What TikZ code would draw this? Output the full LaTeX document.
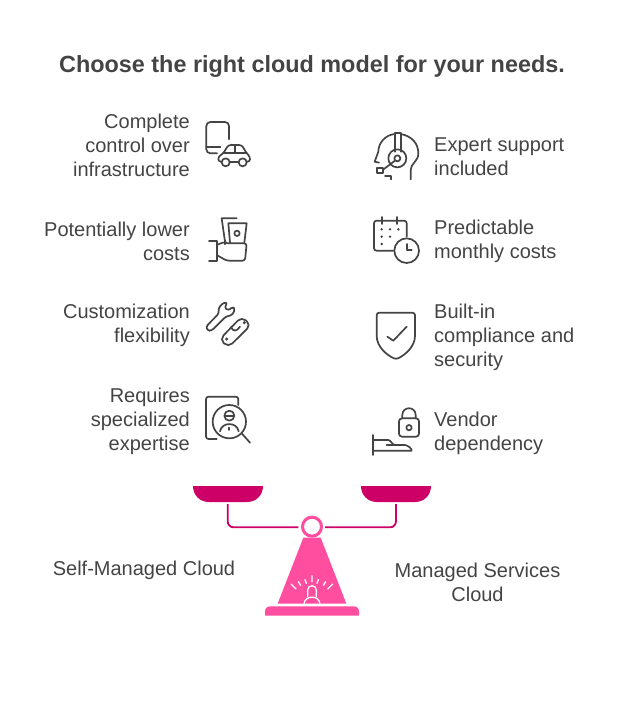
\documentclass[tikz,border=0pt]{standalone}
\usepackage{fontspec}
\setmainfont{Liberation Sans}
\definecolor{ink}{HTML}{444444}
\definecolor{pan}{HTML}{CC0066}
\definecolor{hot}{HTML}{FF4DA0}
\begin{document}
\begin{tikzpicture}[x=1pt,y=-1pt,
 lab/.style={inner sep=0pt,text=ink,font=\fontsize{20}{24}\selectfont},
 labl/.style={lab,anchor=east,align=right},
 labr/.style={lab,anchor=west,align=left},
 ic/.style={draw=ink,line width=1.7pt,line cap=round,line join=round,fill=none},
 icr/.style={ic,rounded corners=2.5pt},
 dotf/.style={fill=ink,draw=none},
 arm/.style={draw=pan,line width=1.8pt,rounded corners=6pt},
 wht/.style={draw=white,line width=1.3pt,line cap=round},
 zm/.style={shift={#1},scale=1/3}]
\useasboundingbox (0,0) rectangle (624,725);
\fill[white] (0,0) rectangle (624,725);
\node[inner sep=0pt,text=ink,font=\fontsize{23.4}{28}\selectfont\bfseries] (title) at (312,66.5) {Choose the right cloud model for your needs.};
% left labels
\node[labl] (l1) at (190,145) {Complete\\control over\\infrastructure};
\node[labl] (l2) at (190,241) {Potentially lower\\costs};
\node[labl] (l3) at (190,325) {Customization\\flexibility};
\node[labl] (l4) at (190,421) {Requires\\specialized\\expertise};
% right labels
\node[labr] (r1) at (434,157) {Expert support\\included};
\node[labr] (r2) at (434,241) {Predictable\\monthly costs};
\node[labr] (r3) at (434,337) {Built-in\\compliance and\\security};
\node[labr] (r4) at (434,433) {Vendor\\dependency};
\node[lab,anchor=center] (sm) at (144,570) {Self-Managed Cloud};
\node[lab,anchor=center,align=center] (ms) at (477.5,582) {Managed Services\\Cloud};
% phone + car
\begin{scope}[zm={(195,110)}]
 \draw[ic,rounded corners=4pt] (102,88) -- (102,36) -- (34,36) -- (34,130) -- (66,130);
 \draw[ic] (34,110) -- (76,110);
 \draw[icr] (80,155) -- (70,155) -- (70,140) -- (85,130) -- (100,105) -- (140,105) -- (155,130) -- (165,140) -- (165,155) -- (155,155);
 \draw[ic] (105,155) -- (130,155) (85,130) -- (155,130) (120,105) -- (120,130);
 \draw[ic] (92,157) circle (12) (143,157) circle (12);
\end{scope}
% cash in hand
\begin{scope}[zm={(195,110)}]
 \draw[ic] (125,325) -- (80,325) -- (90,395);
 \draw[ic] (105,398) -- (100,340) -- (155,340) -- (148,398);
 \draw[ic] (126,370) circle (8);
 \draw[ic] (42,392) -- (65,392) -- (65,452) -- (42,452);
 \draw[icr] (65,405) -- (90,395) -- (90,400) -- (155,400) -- (150,452) -- (95,452) -- (65,435);
\end{scope}
% wrench + tool
\begin{scope}[zm={(195,290)}]
 \draw[icr] (33,110) -- (72,70) -- (70,55) -- (85,38) -- (98,38) -- (88,52) -- (100,62) -- (113,50) -- (120,58) -- (112,75) -- (92,80) -- (50,122) -- (38,122) -- cycle;
 \draw[ic,rounded corners=5.5pt] (74,148) -- (140,80) -- (168,105) -- (100,172) -- cycle;
 \fill[dotf] (95,147) circle (5) (148,98) circle (5);
 \draw[ic] (108,112) .. controls (115,125) and (125,125) .. (135,110);
\end{scope}
% document + magnifier
\begin{scope}[zm={(195,290)}]
 \draw[icr] (65,447) -- (33,447) -- (33,320) -- (130,320) -- (130,345);
 \draw[ic] (103,395) circle (50);
 \draw[ic] (140,430) -- (165,458);
 \draw[ic] (103,377) circle (15);
 \draw[ic] (90,377) -- (116,377);
 \draw[ic] (75,424) .. controls (80,395) and (126,395) .. (131,424);
 \draw[ic] (103,413) -- (103,420);
\end{scope}
% headset
\begin{scope}[zm={(360,120)}]
 \draw[ic] (104,42) .. controls (75,45) and (55,70) .. (55,95) -- (44,125) -- (57,128);
 \draw[ic] (122,42) .. controls (155,48) and (175,70) .. (175,100) .. controls (175,125) and (152,130) .. (152,150) -- (152,178);
 \draw[ic] (104,95) -- (104,38) -- (122,38) -- (122,95);
 \draw[ic] (112,115) circle (27);
 \draw[ic] (112,115) circle (9);
 \draw[ic] (105,122) -- (68,150);
 \draw[ic] (50,143) rectangle (68,158);
 \draw[ic] (75,168) -- (92,168) -- (92,178);
\end{scope}
% calendar + clock
\begin{scope}[zm={(360,120)}]
 \draw[icr] (140,350) -- (140,302) -- (42,302) -- (42,392) -- (100,392);
 \draw[ic] (65,291) -- (65,312) (112,291) -- (112,312);
 \fill[dotf] (65,328) circle (4) (90,328) circle (4) (115,328) circle (4) (65,350) circle (4) (90,350) circle (4) (65,372) circle (4);
 \draw[ic] (140,392) circle (37);
 \draw[ic] (140,372) -- (140,390) -- (155,390);
\end{scope}
% shield
\begin{scope}[zm={(360,300)}]
 \draw[icr] (50,38) -- (165,38) -- (165,100) .. controls (165,140) and (135,165) .. (108,178) .. controls (80,165) and (50,140) .. (50,100) -- cycle;
 \draw[ic] (82,110) -- (100,122) -- (140,80);
\end{scope}
% lock + hand
\begin{scope}[zm={(360,300)}]
 \draw[ic,rounded corners=3pt] (117,355) rectangle (177,410);
 \draw[ic] (127,355) -- (127,345) .. controls (127,318) and (167,318) .. (167,345) -- (167,355);
 \draw[ic] (147,383) circle (8);
 \draw[ic] (38,405) -- (38,465);
 \draw[ic] (38,420) -- (85,420) .. controls (92,420) and (97,435) .. (105,435) -- (135,435) .. controls (145,437) and (155,445) .. (155,452) -- (38,452);
 \draw[ic] (80,435) -- (105,435);
\end{scope}
% balance
\begin{scope}[zm={(185,475)}]
 \fill[pan] (24,33) -- (234,33) .. controls (234,60) and (214,81) .. (186,81) -- (72,81) .. controls (44,81) and (24,60) .. (24,33) -- cycle;
 \fill[pan] (528,33) -- (738,33) .. controls (738,60) and (718,81) .. (690,81) -- (576,81) .. controls (548,81) and (528,60) .. (528,33) -- cycle;
 \coordinate (panL) at (128,87);
 \coordinate (panR) at (633,87);
 \coordinate (hubL) at (340,157);
 \coordinate (hubR) at (420,157);
 \fill[hot] (355,188) -- (407,188) -- (484,386) -- (278,386) -- cycle;
 \fill[hot] (240,422) -- (240,410) .. controls (240,400) and (246,394) .. (256,394) -- (506,394) .. controls (516,394) and (522,400) .. (522,410) -- (522,422) -- cycle;
 \node[circle,draw=hot,fill=white,line width=3pt,minimum size=19pt,inner sep=0pt] (hub) at (381,155) {};
 \draw[wht] (381,302) -- (381,320) (360,314) -- (364,325) (340,320) -- (347,331) (318,327) -- (333,342) (400,314) -- (396,325) (422,320) -- (415,331) (443,327) -- (428,342);
 \draw[wht] (368,365) -- (368,345) .. controls (368,328) and (394,328) .. (394,345) -- (394,365);
 \draw[wht] (357,386) .. controls (360,360) and (402,360) .. (405,386);
\end{scope}
\draw[arm] (panL) |- (hubL);
\draw[arm] (panR) |- (hubR);
\end{tikzpicture}
\end{document}
